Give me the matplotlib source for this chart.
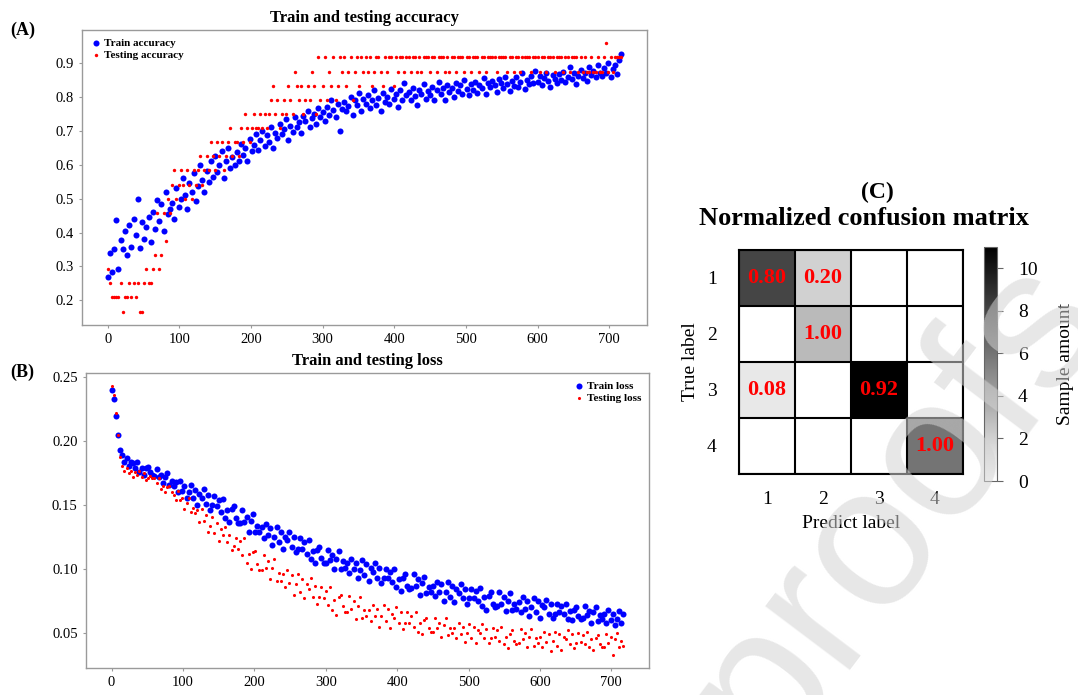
import numpy as np
import matplotlib
matplotlib.use('Agg')
import matplotlib.pyplot as plt

plt.rcParams['font.family'] = 'Liberation Serif'

# every third epoch of the 720-epoch run
epochs = np.arange(0, 720, 3)

# training accuracy, in thousandths
train_acc = [
    268, 341, 283, 352, 436, 292, 377, 350, 405, 333,
    422, 358, 440, 392, 498, 355, 430, 381, 415, 445,
    372, 462, 410, 497, 433, 483, 405, 520, 456, 470,
    488, 440, 530, 475, 500, 560, 512, 468, 545, 520,
    575, 492, 538, 600, 555, 520, 583, 548, 610, 565,
    625, 580, 598, 640, 560, 612, 650, 590, 622, 600,
    638, 610, 662, 628, 650, 612, 675, 640, 658, 690,
    645, 672, 700, 655, 688, 668, 712, 650, 695, 680,
    720, 690, 705, 735, 672, 715, 698, 740, 710, 725,
    695, 745, 728, 760, 712, 738, 750, 720, 768, 742,
    755, 730, 770, 748, 790, 762, 740, 778, 700, 765,
    785, 758, 772, 800, 748, 790, 775, 812, 760, 795,
    780, 805, 768, 790, 820, 775, 798, 760, 812, 785,
    800, 778, 825, 795, 810, 770, 822, 790, 840, 805,
    815, 790, 828, 802, 775, 820, 810, 838, 795, 818,
    805, 830, 792, 822, 845, 808, 826, 790, 835, 815,
    828, 800, 842, 818, 835, 810, 850, 825, 805, 838,
    822, 845, 812, 836, 828, 855, 810, 840, 830, 848,
    835, 815, 852, 840, 826, 860, 838, 818, 848, 832,
    858, 830, 845, 870, 825, 850, 838, 862, 842, 878,
    845, 862, 835, 855, 872, 848, 830, 865, 852, 840,
    868, 850, 875, 845, 860, 888, 852, 870, 838, 862,
    880, 855, 872, 848, 890, 865, 878, 858, 895, 870,
    862, 885, 870, 900, 858, 882, 895, 868, 910, 928,
]

# testing accuracy, correct predictions out of 24 test samples
test_correct = [
    7, 6, 5, 5, 5, 5, 6, 4, 5, 5,
    6, 5, 6, 5, 6, 4, 4, 6, 7, 6,
    6, 7, 8, 11, 7, 8, 11, 9, 12, 11,
    13, 14, 12, 13, 14, 13, 12, 14, 13, 12,
    14, 13, 14, 15, 13, 14, 15, 14, 16, 15,
    14, 16, 15, 16, 14, 15, 16, 17, 15, 16,
    16, 15, 17, 16, 18, 17, 16, 17, 18, 17,
    17, 18, 17, 18, 17, 18, 19, 20, 18, 19,
    17, 18, 19, 18, 20, 19, 18, 21, 20, 19,
    20, 18, 19, 20, 19, 21, 20, 18, 22, 19,
    20, 22, 19, 21, 20, 22, 19, 20, 22, 21,
    22, 20, 21, 22, 19, 21, 22, 20, 22, 21,
    22, 21, 22, 20, 21, 22, 22, 21, 20, 22,
    21, 22, 22, 20, 22, 21, 22, 22, 21, 22,
    22, 21, 22, 22, 21, 22, 21, 22, 22, 22,
    21, 22, 22, 21, 22, 22, 22, 21, 22, 21,
    22, 22, 21, 22, 22, 22, 21, 22, 22, 21,
    22, 22, 22, 21, 22, 22, 21, 22, 22, 22,
    22, 21, 22, 22, 22, 22, 21, 22, 22, 21,
    22, 22, 21, 22, 22, 22, 22, 21, 22, 22,
    22, 21, 22, 22, 21, 22, 22, 22, 21, 22,
    22, 22, 21, 22, 22, 21, 22, 22, 22, 21,
    22, 21, 22, 21, 21, 22, 21, 21, 22, 21,
    21, 22, 23, 21, 22, 21, 22, 22, 22, 22,
]
n_test = 24

# losses, in thousandths
train_loss = [
    240, 233, 220, 205, 193, 189, 184, 187, 181, 184,
    183, 179, 184, 176, 179, 174, 179, 180, 176, 174,
    173, 178, 172, 174, 167, 172, 175, 166, 169, 165,
    168, 160, 169, 161, 165, 156, 160, 166, 156, 162,
    150, 159, 156, 163, 151, 158, 146, 150, 157, 149,
    154, 145, 155, 140, 146, 137, 147, 149, 140, 136,
    136, 146, 137, 141, 129, 138, 143, 129, 134, 129,
    133, 124, 135, 127, 132, 119, 125, 133, 121, 129,
    116, 125, 123, 129, 117, 125, 113, 116, 124, 116,
    121, 112, 123, 108, 114, 105, 115, 117, 109, 105,
    105, 115, 107, 111, 100, 108, 114, 100, 106, 101,
    105, 97, 108, 100, 105, 93, 99, 107, 95, 104,
    91, 101, 98, 105, 93, 101, 89, 93, 100, 93,
    98, 90, 100, 86, 92, 83, 93, 96, 87, 84,
    85, 96, 87, 92, 80, 89, 94, 81, 86, 82,
    87, 79, 90, 82, 88, 75, 82, 90, 78, 87,
    74, 84, 81, 88, 77, 84, 73, 77, 84, 77,
    83, 75, 85, 71, 78, 68, 79, 82, 73, 70,
    71, 82, 73, 78, 67, 75, 81, 68, 73, 69,
    74, 66, 78, 69, 75, 63, 70, 77, 66, 75,
    62, 72, 70, 76, 65, 73, 62, 65, 73, 66,
    71, 65, 73, 61, 67, 60, 68, 70, 63, 61,
    62, 71, 64, 67, 58, 66, 70, 59, 64, 61,
    65, 58, 68, 60, 65, 56, 61, 67, 58, 65,
]

test_loss = [
    243, 236, 222, 205, 188, 181, 177, 179, 175, 177,
    172, 176, 174, 177, 172, 175, 170, 171, 173, 171,
    171, 167, 171, 163, 165, 160, 164, 165, 160, 158,
    154, 161, 154, 156, 147, 152, 156, 145, 148, 144,
    146, 137, 147, 138, 142, 129, 134, 141, 128, 136,
    122, 131, 127, 133, 121, 127, 115, 118, 124, 116,
    122, 111, 124, 105, 112, 100, 113, 114, 104, 99,
    99, 111, 101, 106, 92, 101, 108, 91, 97, 91,
    96, 86, 99, 89, 95, 80, 88, 96, 82, 92,
    77, 88, 84, 93, 78, 87, 73, 78, 86, 77,
    83, 72, 86, 68, 76, 64, 78, 80, 71, 66,
    66, 79, 69, 75, 61, 71, 78, 62, 68, 63,
    68, 59, 72, 63, 69, 55, 63, 72, 59, 69,
    54, 65, 62, 70, 58, 66, 53, 58, 66, 58,
    63, 55, 66, 51, 58, 49, 60, 62, 54, 51,
    51, 62, 54, 58, 47, 56, 62, 48, 54, 50,
    54, 46, 58, 49, 55, 43, 50, 57, 46, 55,
    42, 52, 50, 57, 46, 53, 42, 46, 54, 47,
    52, 44, 55, 41, 47, 38, 49, 52, 44, 41,
    42, 53, 45, 50, 39, 47, 53, 40, 46, 42,
    47, 39, 51, 43, 49, 36, 44, 51, 40, 49,
    37, 47, 45, 52, 41, 49, 38, 42, 50, 43,
    48, 41, 51, 39, 45, 37, 46, 48, 41, 39,
    39, 49, 42, 47, 33, 45, 50, 39, 44, 40,
]

# confusion matrix (sample counts), rows = true label, cols = predicted label
class_names = ['1', '2', '3', '4']
cm_counts = np.array([
    [8, 2, 0, 0],
    [0, 3, 0, 0],
    [1, 0, 11, 0],
    [0, 0, 0, 6],
])

spine_grey = '#9a9a9a'

fig = plt.figure(figsize=(10.78, 6.95), dpi=100)


def style_axes(ax):
    for sp in ax.spines.values():
        sp.set_color(spine_grey)
        sp.set_linewidth(1.0)
    ax.tick_params(labelsize=10.5, length=2, color=spine_grey, pad=4)
    ax.set_xticks(range(0, 701, 100))


# (A) accuracy
axA = fig.add_axes([0.0761, 0.5324, 0.5241, 0.4245])
axA.scatter(epochs, np.array(train_acc) / 1000, s=19, c='blue', lw=0,
            label='Train accuracy')
axA.scatter(epochs, np.array(test_correct) / n_test, s=6, c='red', lw=0,
            label='Testing accuracy')
style_axes(axA)
axA.set_title('Train and testing accuracy', fontsize=12, weight='bold', pad=6)
axA.legend(loc='upper left', frameon=False, prop={'weight': 'bold', 'size': 8},
           handletextpad=0.1, labelspacing=0.25, borderaxespad=0.3,
           handlelength=1.2)

# (B) loss
axB = fig.add_axes([0.0798, 0.0388, 0.5223, 0.4245])
axB.scatter(epochs, np.array(train_loss) / 1000, s=19, c='blue', lw=0,
            label='Train loss')
axB.scatter(epochs, np.array(test_loss) / 1000, s=5, c='red', lw=0,
            label='Testing loss')
style_axes(axB)
axB.set_title('Train and testing loss', fontsize=12, weight='bold', pad=6)
axB.legend(loc='upper right', frameon=False, prop={'weight': 'bold', 'size': 8},
           handletextpad=0.1, labelspacing=0.25, borderaxespad=0.3,
           handlelength=1.2)

fig.text(0.0093, 0.957, '(A)', fontsize=13, weight='bold', va='center')
fig.text(0.0093, 0.4647, '(B)', fontsize=13, weight='bold', va='center')

# (C) confusion matrix
cm_norm = cm_counts / cm_counts.sum(axis=1, keepdims=True)
axC = fig.add_axes([0.6855, 0.318, 0.2078, 0.3223])
im = axC.imshow(cm_counts, cmap='gray_r', vmin=0, vmax=11)
for i in range(4):
    for j in range(4):
        if cm_counts[i, j] > 0:
            axC.text(j, i, f'{cm_norm[i, j]:.2f}', ha='center', va='center',
                     color='red', weight='bold', fontsize=16)
axC.set_xticks(range(4))
axC.set_yticks(range(4))
axC.set_xticklabels(class_names)
axC.set_yticklabels(class_names)
axC.set_xticks(np.arange(-0.5, 4, 1), minor=True)
axC.set_yticks(np.arange(-0.5, 4, 1), minor=True)
axC.grid(which='minor', color='black', linewidth=1.5)
axC.tick_params(which='both', length=0, labelsize=14)
axC.tick_params(axis='x', pad=12)
axC.tick_params(axis='y', pad=16)
for sp in axC.spines.values():
    sp.set_color('black')
    sp.set_linewidth(1.5)
axC.set_xlabel('Predict label', fontsize=14, labelpad=5)
axC.set_ylabel('True label', fontsize=14, labelpad=6)

cax = fig.add_axes([0.9128, 0.3079, 0.0121, 0.3367])
cb = fig.colorbar(im, cax=cax)
cb.set_ticks([0, 2, 4, 6, 8, 10])
cb.ax.tick_params(labelsize=14, length=4, color='#666666', pad=11)
cb.outline.set_edgecolor('#666666')
cb.set_label('Sample amount', fontsize=14, labelpad=14)

fig.text(0.8135, 0.7237, '(C)', fontsize=17, weight='bold', ha='center', va='center')
fig.text(0.8015, 0.6849, 'Normalized confusion matrix', fontsize=19, weight='bold',
         ha='center', va='center')

# journal watermark
fig.text(0.833, 0.275, 'proofs', fontsize=145, family='Liberation Sans',
         color='#d4d4d4', alpha=0.55, rotation=53, ha='center', va='center',
         rotation_mode='anchor', zorder=10)

fig.savefig('out.png', dpi=100, facecolor='white')
